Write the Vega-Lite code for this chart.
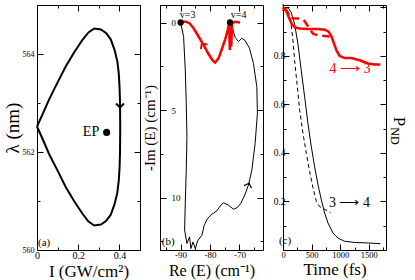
{
  "$schema": "https://vega.github.io/schema/vega-lite/v6.json",
  "autosize": {"type": "pad"},
  "padding": {"left": 2, "top": 0, "right": 0, "bottom": 0},
  "background": "white",
  "config": {
    "font": "Liberation Serif",
    "view": {"stroke": "black", "strokeWidth": 1},
    "axis": {"domain": false, "grid": false, "tickColor": "black", "labelColor": "black", "titleColor": "black", "titleFontWeight": "normal", "labelFont": "Liberation Serif", "titleFont": "Liberation Serif", "labelOverlap": false, "labelFlush": false, "labelBound": false},
    "text": {"font": "Liberation Serif"}
  },
  "datasets": {
    "loopA": [
      {"i":0,"I":0,"lam":562.52},{"i":1,"I":0.03,"lam":562.8},{"i":2,"I":0.0585,"lam":563.07},{"i":3,"I":0.1,"lam":563.42},{"i":4,"I":0.14,"lam":563.75},{"i":5,"I":0.18,"lam":564.03},{"i":6,"I":0.221,"lam":564.29},{"i":7,"I":0.25,"lam":564.44},{"i":8,"I":0.278,"lam":564.52},{"i":9,"I":0.31,"lam":564.5},{"i":10,"I":0.335,"lam":564.43},{"i":11,"I":0.358,"lam":564.3},{"i":12,"I":0.376,"lam":564.09},{"i":13,"I":0.39,"lam":563.85},{"i":14,"I":0.397,"lam":563.6},{"i":15,"I":0.401,"lam":563.3},{"i":16,"I":0.403,"lam":563.0},{"i":17,"I":0.404,"lam":562.5},{"i":18,"I":0.403,"lam":562.0},{"i":19,"I":0.401,"lam":561.7},{"i":20,"I":0.397,"lam":561.42},{"i":21,"I":0.39,"lam":561.17},{"i":22,"I":0.376,"lam":560.93},{"i":23,"I":0.358,"lam":560.72},{"i":24,"I":0.335,"lam":560.59},{"i":25,"I":0.31,"lam":560.52},{"i":26,"I":0.278,"lam":560.5},{"i":27,"I":0.25,"lam":560.58},{"i":28,"I":0.221,"lam":560.74},{"i":29,"I":0.18,"lam":561.0},{"i":30,"I":0.14,"lam":561.28},{"i":31,"I":0.1,"lam":561.62},{"i":32,"I":0.0585,"lam":561.96},{"i":33,"I":0.03,"lam":562.24},{"i":34,"I":0,"lam":562.52}
    ],
    "epA": [{"I":0.338,"lam":562.4}],
    "epTextA": [{"I":0.302,"lam":562.4,"t":"EP"}],
    "arrowA": [{"I":0.403,"lam":562.95}],
    "tagA": [{"I":0.005,"lam":560.15,"t":"(a)"}],
    "blackB": [
      {"i":0,"re":-90,"im":0},{"i":1,"re":-88.98,"im":0.8},{"i":2,"re":-88.42,"im":2.71},{"i":3,"re":-88.08,"im":4.62},{"i":4,"re":-87.85,"im":6.53},{"i":5,"re":-88.08,"im":8.44},{"i":6,"re":-88.42,"im":10.34},{"i":7,"re":-88.64,"im":11.87},{"i":8,"re":-87.85,"im":12.63},{"i":9,"re":-86.95,"im":12.25},{"i":10,"re":-86.5,"im":12.92},{"i":11,"re":-85.8,"im":12.54},{"i":12,"re":-85.0,"im":12.92},{"i":13,"re":-84.24,"im":12.48},{"i":14,"re":-82.77,"im":12.16},{"i":15,"re":-81.97,"im":11.59},{"i":16,"re":-80.85,"im":11.2},{"i":17,"re":-79.38,"im":10.96},{"i":18,"re":-77.69,"im":10.76},{"i":19,"re":-76.33,"im":10.44},{"i":20,"re":-75.42,"im":10.3},{"i":21,"re":-73.73,"im":10.44},{"i":22,"re":-72.03,"im":10.67},{"i":23,"re":-70.68,"im":10.57},{"i":24,"re":-69.55,"im":10.34},{"i":25,"re":-68.07,"im":9.81},{"i":26,"re":-66.95,"im":9.29},{"i":27,"re":-65.8,"im":8.44},{"i":28,"re":-64.68,"im":6.91},{"i":29,"re":-63.9,"im":5.19},{"i":30,"re":-64.1,"im":3.66},{"i":31,"re":-65.25,"im":2.33},{"i":32,"re":-66.6,"im":1.47},{"i":33,"re":-68.07,"im":1.03},{"i":34,"re":-69.2,"im":0.9},{"i":35,"re":-70.34,"im":1.09},{"i":36,"re":-71.46,"im":0.86},{"i":37,"re":-72.37,"im":0.33},{"i":38,"re":-73.2,"im":0}
    ],
    "redB": [
      {"i":0,"re":-90,"im":0},{"i":1,"re":-88.42,"im":-0.05},{"i":2,"re":-86.95,"im":0.04},{"i":3,"re":-85.6,"im":0.33},{"i":4,"re":-83.9,"im":0.8},{"i":5,"re":-82.2,"im":1.28},{"i":6,"re":-80.5,"im":1.8},{"i":7,"re":-79.05,"im":2.18},{"i":8,"re":-78.24,"im":2.29},{"i":9,"re":-77.1,"im":2.04},{"i":10,"re":-76.0,"im":1.53},{"i":11,"re":-74.85,"im":0.96},{"i":12,"re":-73.97,"im":0.42},{"i":13,"re":-73.5,"im":0.04},{"i":14,"re":-73.28,"im":1.57},{"i":15,"re":-73.05,"im":0.08},{"i":16,"re":-72.8,"im":1.38},{"i":17,"re":-72.48,"im":0.04},{"i":18,"re":-71.46,"im":-0.04},{"i":19,"re":-69.77,"im":0.0}
    ],
    "ptsB": [{"re":-90,"im":0},{"re":-73.2,"im":0}],
    "ptsTextB": [{"re":-87.6,"im":-0.43,"t":"v=3"},{"re":-70.3,"im":-0.42,"t":"v=4"}],
    "arrowBlackB": [{"re":-66.95,"im":9.29}],
    "arrowRedB": [{"re":-82.4,"im":1.3}],
    "tagB": [{"re":-96.4,"im":12.52,"t":"(b)"}],
    "solidC": [
      {"t":0,"p":1.0},{"t":59,"p":1.0},{"t":99,"p":0.996},{"t":146,"p":0.978},{"t":204,"p":0.93},{"t":262,"p":0.848},{"t":320,"p":0.739},{"t":379,"p":0.63},{"t":437,"p":0.52},{"t":495,"p":0.425},{"t":553,"p":0.343},{"t":612,"p":0.268},{"t":671,"p":0.206},{"t":728,"p":0.152},{"t":787,"p":0.111},{"t":874,"p":0.07},{"t":961,"p":0.049},{"t":1078,"p":0.036},{"t":1253,"p":0.031},{"t":1486,"p":0.029},{"t":1701,"p":0.026}
    ],
    "dashC": [
      {"t":0,"p":1.0},{"t":59,"p":0.996},{"t":99,"p":0.978},{"t":134,"p":0.944},{"t":169,"p":0.876},{"t":204,"p":0.78},{"t":251,"p":0.671},{"t":292,"p":0.575},{"t":350,"p":0.48},{"t":408,"p":0.398},{"t":466,"p":0.323},{"t":525,"p":0.255},{"t":583,"p":0.2},{"t":641,"p":0.179},{"t":728,"p":0.168},{"t":833,"p":0.154}
    ],
    "redSolidC": [
      {"t":0,"p":1.0},{"t":59,"p":0.985},{"t":105,"p":0.957},{"t":158,"p":0.93},{"t":215,"p":0.917},{"t":292,"p":0.913},{"t":437,"p":0.911},{"t":612,"p":0.911},{"t":728,"p":0.908},{"t":798,"p":0.9},{"t":845,"p":0.882},{"t":892,"p":0.851},{"t":938,"p":0.821},{"t":991,"p":0.8},{"t":1078,"p":0.791},{"t":1194,"p":0.791},{"t":1340,"p":0.782},{"t":1486,"p":0.769},{"t":1603,"p":0.765},{"t":1701,"p":0.765}
    ],
    "redDashC": [
      {"t":0,"p":1.0},{"t":59,"p":0.987},{"t":117,"p":0.967},{"t":175,"p":0.955},{"t":292,"p":0.954},{"t":350,"p":0.951},{"t":408,"p":0.933},{"t":466,"p":0.91},{"t":525,"p":0.892},{"t":612,"p":0.885},{"t":728,"p":0.882},{"t":816,"p":0.88}
    ],
    "redLabelC": [{"t":1171,"p":0.745,"s":"4 ⟶ 3"}],
    "blackLabelC": [{"t":1160,"p":0.193,"s":"3 ⟶ 4"}],
    "tagC": [{"t":35,"p":0.037,"s":"(c)"}],
    "pC": [{"t":2028,"p":0.53,"s":"P"}],
    "ndC": [{"t":1958,"p":0.47,"s":"ND"}]
  },
  "hconcat": [
    {
      "width": 103, "height": 245,
      "resolve": {"axis": {"x": "independent", "y": "independent"}},
      "layer": [
        {
          "data": {"name": "loopA"},
          "mark": {"type": "line", "color": "black", "strokeWidth": 2},
          "encoding": {
            "x": {"field": "I", "type": "quantitative", "scale": {"domain": [0, 0.5], "nice": false, "zero": false},
              "axis": {"orient": "bottom", "values": [0, 0.1, 0.2, 0.3, 0.4, 0.5], "labelExpr": "datum.value < 0.01 ? '0' : (round(datum.value*10) % 2 == 0 && datum.value < 0.45) ? format(datum.value, '.1f') : ''", "tickSize": {"condition": {"test": "round(datum.value*10) % 2 == 0", "value": -6}, "value": -3}, "labelFontSize": 10, "labelPadding": 6, "title": "I (GW/cm²)", "titleFontSize": 17, "titlePadding": 0}},
            "y": {"field": "lam", "type": "quantitative", "scale": {"domain": [560, 565], "nice": false, "zero": false},
              "axis": {"orient": "left", "values": [560, 561, 562, 563, 564, 565], "labelExpr": "datum.value % 2 == 0 ? datum.value : ''", "tickSize": {"condition": {"test": "datum.value % 2 == 0", "value": -6}, "value": -3}, "labelFontSize": 8, "labelPadding": 9, "title": "λ (nm)", "titleFontSize": 19, "titlePadding": 0}},
            "order": {"field": "i", "type": "quantitative"}
          }
        },
        {
          "data": {"name": "epA"},
          "mark": {"type": "point", "filled": true, "color": "black", "opacity": 1, "size": 50},
          "encoding": {
            "x": {"field": "I", "type": "quantitative", "axis": {"orient": "top", "values": [0, 0.1, 0.2, 0.3, 0.4, 0.5], "labels": false, "title": null, "tickSize": {"condition": {"test": "round(datum.value*10) % 2 == 0", "value": -6}, "value": -3}}},
            "y": {"field": "lam", "type": "quantitative", "axis": {"orient": "right", "values": [560, 561, 562, 563, 564, 565], "labels": false, "title": null, "tickSize": {"condition": {"test": "datum.value % 2 == 0", "value": -6}, "value": -3}}}
          }
        },
        {
          "data": {"name": "epTextA"},
          "mark": {"type": "text", "align": "right", "baseline": "middle", "fontSize": 14, "color": "black"},
          "encoding": {
            "x": {"field": "I", "type": "quantitative", "axis": null},
            "y": {"field": "lam", "type": "quantitative", "axis": null},
            "text": {"field": "t"}
          }
        },
        {
          "data": {"name": "arrowA"},
          "mark": {"type": "point", "shape": "M-1,-0.5L0,0.5L1,-0.5", "filled": false, "stroke": "black", "strokeWidth": 2, "size": 64, "opacity": 1},
          "encoding": {
            "x": {"field": "I", "type": "quantitative", "axis": null},
            "y": {"field": "lam", "type": "quantitative", "axis": null}
          }
        },
        {
          "data": {"name": "tagA"},
          "mark": {"type": "text", "align": "left", "baseline": "middle", "fontSize": 11, "color": "black"},
          "encoding": {
            "x": {"field": "I", "type": "quantitative", "axis": null},
            "y": {"field": "lam", "type": "quantitative", "axis": null},
            "text": {"field": "t"}
          }
        }
      ]
    },
    {
      "width": 103, "height": 245,
      "resolve": {"axis": {"x": "independent", "y": "independent"}},
      "layer": [
        {
          "data": {"name": "blackB"},
          "mark": {"type": "line", "color": "black", "strokeWidth": 1},
          "encoding": {
            "x": {"field": "re", "type": "quantitative", "scale": {"domain": [-97, -62], "nice": false, "zero": false},
              "axis": {"orient": "bottom", "values": [-95, -90, -85, -80, -75, -70, -65], "labelExpr": "datum.value % 10 == 0 ? datum.value : ''", "tickSize": {"condition": {"test": "datum.value % 10 == 0", "value": -6}, "value": -3}, "labelFontSize": 9, "labelPadding": 6, "title": "Re (E) (cm⁻¹)", "titleFontSize": 16, "titlePadding": 0}},
            "y": {"field": "im", "type": "quantitative", "scale": {"domain": [-1, 13], "nice": false, "zero": false, "reverse": true},
              "axis": {"orient": "left", "values": [0, 2.5, 5, 7.5, 10, 12.5], "labelExpr": "datum.value % 5 == 0 ? datum.value : ''", "tickSize": {"condition": {"test": "datum.value % 5 == 0", "value": -6}, "value": -3}, "labelFontSize": 9, "labelAlign": "left", "labelPadding": -5, "title": "-Im (E) (cm⁻¹)", "titleFontSize": 15, "titlePadding": 2}},
            "order": {"field": "i", "type": "quantitative"}
          }
        },
        {
          "data": {"name": "redB"},
          "mark": {"type": "line", "color": "#ff0000", "strokeWidth": 2.5},
          "encoding": {
            "x": {"field": "re", "type": "quantitative", "axis": {"orient": "top", "values": [-95, -90, -85, -80, -75, -70, -65], "labels": false, "title": null, "tickSize": {"condition": {"test": "datum.value % 10 == 0", "value": -6}, "value": -3}}},
            "y": {"field": "im", "type": "quantitative", "axis": {"orient": "right", "values": [0, 2.5, 5, 7.5, 10, 12.5], "labels": false, "title": null, "tickSize": {"condition": {"test": "datum.value % 5 == 0", "value": -6}, "value": -3}}},
            "order": {"field": "i", "type": "quantitative"}
          }
        },
        {
          "data": {"name": "ptsB"},
          "mark": {"type": "point", "filled": true, "color": "black", "opacity": 1, "size": 40},
          "encoding": {
            "x": {"field": "re", "type": "quantitative", "axis": null},
            "y": {"field": "im", "type": "quantitative", "axis": null}
          }
        },
        {
          "data": {"name": "ptsTextB"},
          "mark": {"type": "text", "align": "center", "baseline": "middle", "fontSize": 10, "color": "black"},
          "encoding": {
            "x": {"field": "re", "type": "quantitative", "axis": null},
            "y": {"field": "im", "type": "quantitative", "axis": null},
            "text": {"field": "t"}
          }
        },
        {
          "data": {"name": "arrowBlackB"},
          "mark": {"type": "point", "shape": "M-1,0.5L0,-0.5L1,0.5", "filled": false, "stroke": "black", "strokeWidth": 1.2, "size": 64, "angle": 20, "opacity": 1},
          "encoding": {
            "x": {"field": "re", "type": "quantitative", "axis": null},
            "y": {"field": "im", "type": "quantitative", "axis": null}
          }
        },
        {
          "data": {"name": "arrowRedB"},
          "mark": {"type": "point", "shape": "M-1,0.5L0,-0.5L1,0.5", "filled": false, "stroke": "#ff0000", "strokeWidth": 2, "size": 64, "angle": -35, "opacity": 1},
          "encoding": {
            "x": {"field": "re", "type": "quantitative", "axis": null},
            "y": {"field": "im", "type": "quantitative", "axis": null}
          }
        },
        {
          "data": {"name": "tagB"},
          "mark": {"type": "text", "align": "left", "baseline": "middle", "fontSize": 11, "color": "black"},
          "encoding": {
            "x": {"field": "re", "type": "quantitative", "axis": null},
            "y": {"field": "im", "type": "quantitative", "axis": null},
            "text": {"field": "t"}
          }
        }
      ]
    },
    {
      "width": 103, "height": 245,
      "resolve": {"axis": {"x": "independent", "y": "independent"}},
      "layer": [
        {
          "data": {"name": "solidC"},
          "mark": {"type": "line", "color": "black", "strokeWidth": 1},
          "encoding": {
            "x": {"field": "t", "type": "quantitative", "scale": {"domain": [0, 1800], "nice": false, "zero": false},
              "axis": {"orient": "bottom", "values": [0, 250, 500, 750, 1000, 1250, 1500, 1750], "labelExpr": "datum.value % 500 == 0 ? datum.value : ''", "tickSize": {"condition": {"test": "datum.value % 500 == 0", "value": -6}, "value": -3}, "labelFontSize": 8.5, "labelPadding": 6, "title": "Time (fs)", "titleFontSize": 17, "titlePadding": 0}},
            "y": {"field": "p", "type": "quantitative", "scale": {"domain": [0, 1.01], "nice": false, "zero": false},
              "axis": {"orient": "left", "values": [0, 0.1, 0.2, 0.3, 0.4, 0.5, 0.6, 0.7, 0.8, 0.9, 1], "labelExpr": "datum.value > 0.99 ? '1' : (round(datum.value*10) % 2 == 0 && datum.value > 0.05) ? format(datum.value, '.1f') : ''", "tickSize": {"condition": {"test": "round(datum.value*10) % 2 == 0", "value": -6}, "value": -3}, "labelFontSize": 9.5, "labelPadding": 4, "title": null}}
          }
        },
        {
          "data": {"name": "dashC"},
          "mark": {"type": "line", "color": "black", "strokeWidth": 1, "strokeDash": [4, 3]},
          "encoding": {
            "x": {"field": "t", "type": "quantitative", "axis": {"orient": "top", "values": [0, 250, 500, 750, 1000, 1250, 1500, 1750], "labels": false, "title": null, "tickSize": {"condition": {"test": "datum.value % 500 == 0", "value": -6}, "value": -3}}},
            "y": {"field": "p", "type": "quantitative", "axis": {"orient": "right", "values": [0, 0.1, 0.2, 0.3, 0.4, 0.5, 0.6, 0.7, 0.8, 0.9, 1], "labels": false, "title": null, "tickSize": {"condition": {"test": "round(datum.value*10) % 2 == 0", "value": -6}, "value": -3}}}
          }
        },
        {
          "data": {"name": "redSolidC"},
          "mark": {"type": "line", "color": "#ff0000", "strokeWidth": 2.5},
          "encoding": {
            "x": {"field": "t", "type": "quantitative", "axis": null},
            "y": {"field": "p", "type": "quantitative", "axis": null}
          }
        },
        {
          "data": {"name": "redDashC"},
          "mark": {"type": "line", "color": "#ff0000", "strokeWidth": 2.5, "strokeDash": [8, 5]},
          "encoding": {
            "x": {"field": "t", "type": "quantitative", "axis": null},
            "y": {"field": "p", "type": "quantitative", "axis": null}
          }
        },
        {
          "data": {"name": "redLabelC"},
          "mark": {"type": "text", "align": "center", "baseline": "middle", "fontSize": 14, "color": "#ff0000"},
          "encoding": {
            "x": {"field": "t", "type": "quantitative", "axis": null},
            "y": {"field": "p", "type": "quantitative", "axis": null},
            "text": {"field": "s"}
          }
        },
        {
          "data": {"name": "blackLabelC"},
          "mark": {"type": "text", "align": "center", "baseline": "middle", "fontSize": 14, "color": "black"},
          "encoding": {
            "x": {"field": "t", "type": "quantitative", "axis": null},
            "y": {"field": "p", "type": "quantitative", "axis": null},
            "text": {"field": "s"}
          }
        },
        {
          "data": {"name": "tagC"},
          "mark": {"type": "text", "align": "center", "baseline": "middle", "fontSize": 11, "color": "black"},
          "encoding": {
            "x": {"field": "t", "type": "quantitative", "axis": null},
            "y": {"field": "p", "type": "quantitative", "axis": null},
            "text": {"field": "s"}
          }
        },
        {
          "data": {"name": "pC"},
          "mark": {"type": "text", "align": "center", "baseline": "middle", "fontSize": 17, "angle": 90, "color": "black"},
          "encoding": {
            "x": {"field": "t", "type": "quantitative", "axis": null},
            "y": {"field": "p", "type": "quantitative", "axis": null},
            "text": {"field": "s"}
          }
        },
        {
          "data": {"name": "ndC"},
          "mark": {"type": "text", "align": "center", "baseline": "middle", "fontSize": 12, "angle": 90, "color": "black"},
          "encoding": {
            "x": {"field": "t", "type": "quantitative", "axis": null},
            "y": {"field": "p", "type": "quantitative", "axis": null},
            "text": {"field": "s"}
          }
        }
      ]
    }
  ],
  "spacing": 20,
  "bounds": "flush"
}
